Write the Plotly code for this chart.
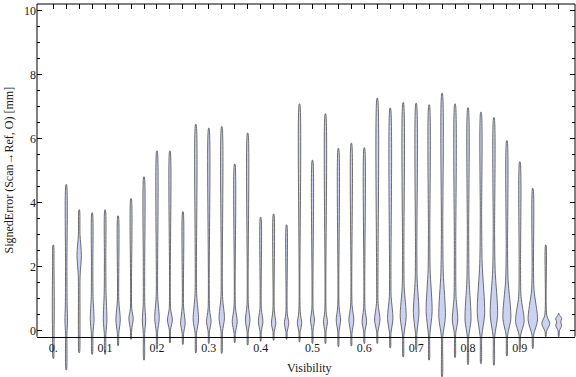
import plotly.graph_objects as go

# ---- data ----
visibility = [0.0, 0.025, 0.05, 0.075, 0.1, 0.125, 0.15, 0.175, 0.2, 0.225,
              0.25, 0.275, 0.3, 0.325, 0.35, 0.375, 0.4, 0.425, 0.45, 0.475,
              0.5, 0.525, 0.55, 0.575, 0.6, 0.625, 0.65, 0.675, 0.7, 0.725,
              0.75, 0.775, 0.8, 0.825, 0.85, 0.875, 0.9, 0.925, 0.95, 0.975]

err_max = [2.67, 4.56, 3.77, 3.68, 3.77, 3.58, 4.12, 4.80, 5.61, 5.61,
           3.71, 6.44, 6.32, 6.37, 5.20, 6.17, 3.54, 3.64, 3.30, 7.08,
           5.32, 6.77, 5.69, 5.85, 5.71, 7.26, 6.95, 7.12, 7.10, 7.05,
           7.41, 7.08, 6.96, 6.82, 6.65, 5.93, 5.27, 4.44, 2.67, 0.54]

err_min = [-0.87, -1.23, -0.69, -0.74, -0.74, -0.47, -0.27, -0.92, -0.58, -0.38,
           -0.43, -0.69, -0.40, -0.71, -0.37, -0.45, -0.33, -0.30, -0.27, -0.35,
           -0.40, -0.40, -0.50, -0.48, -0.40, -0.40, -0.54, -0.82, -0.61, -0.92,
           -1.44, -0.84, -1.06, -1.03, -1.08, -0.79, -0.61, -0.56, -0.19, -0.19]

# density profile knots per violin: (error value, relative half-width)
density_knots = [
    [(0.0, 0.8), (0.8, 1.0), (2.0, 0.7)],
    [(-0.1, 0.7), (0.3, 1.3), (0.8, 0.9), (2.0, 0.7)],
    [(0.0, 0.8), (1.7, 0.9), (2.35, 2.2), (3.0, 0.8)],
    [(-0.1, 0.8), (0.35, 1.9), (1.06, 0.9), (2.0, 0.7)],
    [(-0.1, 0.8), (0.33, 1.8), (1.2, 0.9), (2.2, 0.7)],
    [(-0.09, 0.7), (0.33, 2.2), (0.95, 0.7)],
    [(0.02, 0.6), (0.38, 2.2), (0.69, 0.7)],
    [(-0.09, 0.7), (0.33, 1.7), (0.8, 0.8), (2.0, 0.7)],
    [(-0.04, 0.7), (0.38, 2.3), (1.06, 0.8)],
    [(0.02, 0.6), (0.33, 2.5), (0.69, 0.7)],
    [(-0.09, 0.7), (0.22, 2.3), (0.74, 0.7)],
    [(-0.09, 0.7), (0.33, 2.7), (1.16, 0.8)],
    [(-0.04, 0.6), (0.28, 2.3), (0.69, 0.7)],
    [(-0.04, 0.7), (0.38, 2.7), (1.06, 0.8)],
    [(-0.09, 0.6), (0.28, 2.5), (0.74, 0.7)],
    [(-0.04, 0.6), (0.33, 2.3), (0.80, 0.7)],
    [(-0.04, 0.6), (0.28, 2.3), (0.69, 0.7)],
    [(-0.04, 0.6), (0.22, 2.2), (0.64, 0.7)],
    [(-0.04, 0.6), (0.22, 2.2), (0.54, 0.7)],
    [(-0.04, 0.6), (0.22, 2.2), (0.59, 0.7)],
    [(0.02, 0.6), (0.33, 2.0), (0.64, 0.7)],
    [(-0.04, 0.6), (0.28, 2.0), (0.59, 0.7)],
    [(-0.04, 0.6), (0.33, 2.2), (0.74, 0.7)],
    [(-0.09, 0.6), (0.33, 2.5), (0.80, 0.7)],
    [(-0.04, 0.6), (0.28, 2.3), (0.69, 0.7)],
    [(-0.04, 0.6), (0.33, 2.7), (0.85, 0.8), (1.8, 0.7)],
    [(-0.09, 0.7), (0.38, 2.7), (1.06, 0.9), (1.8, 0.7)],
    [(-0.14, 0.7), (0.43, 3.0), (1.37, 1.0), (2.5, 0.7)],
    [(-0.09, 0.7), (0.54, 2.8), (1.58, 1.0), (2.5, 0.7)],
    [(-0.14, 0.7), (0.59, 3.0), (1.9, 1.0), (3.0, 0.7)],
    [(-0.19, 0.7), (0.43, 3.3), (1.8, 1.2), (3.0, 0.7)],
    [(-0.09, 0.7), (0.33, 2.7), (1.06, 1.0), (2.5, 0.7)],
    [(-0.19, 0.7), (0.33, 3.0), (1.58, 1.1), (3.0, 0.7)],
    [(-0.19, 0.8), (0.54, 3.7), (2.1, 1.2), (3.5, 0.7)],
    [(-0.19, 0.8), (0.49, 3.7), (1.9, 1.2), (3.0, 0.7)],
    [(-0.14, 0.8), (0.38, 4.0), (1.58, 1.2), (2.5, 0.7)],
    [(-0.14, 0.8), (0.28, 4.3), (1.06, 1.2), (2.0, 0.7)],
    [(-0.14, 0.8), (0.33, 4.7), (1.27, 1.2), (2.0, 0.7)],
    [(-0.03, 0.7), (0.22, 4.0), (0.48, 1.0)],
    [(0.0, 0.7), (0.15, 3.0), (0.27, 2.0), (0.38, 3.0), (0.50, 0.5)],
]

x_tick_vals = [0.0, 0.1, 0.2, 0.3, 0.4, 0.5, 0.6, 0.7, 0.8, 0.9]
x_tick_text = ["0.", "0.1", "0.2", "0.3", "0.4", "0.5", "0.6", "0.7", "0.8", "0.9"]
y_tick_vals = [0, 2, 4, 6, 8, 10]
y_tick_text = ["0", "2", "4", "6", "8", "10"]
y_minor_vals = [0.5, 1, 1.5, 2.5, 3, 3.5, 4.5, 5, 5.5, 6.5, 7, 7.5, 8.5, 9, 9.5]

# ---- styling / geometry ----
X_RANGE = [-0.0314, 1.0064]
Y_RANGE = [-1.45, 10.2]
AXIS_Y = -0.19
WIDTH_SCALE = 1 / 518.4      # relative half-width unit -> visibility units
TAIL = 0.25
FILL = "#cbd2f3"
EDGE = "#555555"
FONT = "Liberation Serif, Times New Roman, serif"
TXT = "#1a1a1a"

fig = go.Figure()

for pos, lo, hi, knots in zip(visibility, err_min, err_max, density_knots):
    pts = [(lo, TAIL)] + sorted(knots) + [(hi, TAIL)]
    ys = [p[0] for p in pts]
    ws = [p[1] * WIDTH_SCALE for p in pts]
    xs_r = [pos + w for w in ws]
    xs_l = [pos - w for w in ws]
    fig.add_trace(go.Scatter(
        x=xs_r + xs_l[::-1] + [xs_r[0]],
        y=ys + ys[::-1] + [ys[0]],
        mode="lines", fill="toself", fillcolor=FILL,
        line=dict(color=EDGE, width=0.85, shape="spline", smoothing=0.8),
        hoverinfo="skip", showlegend=False,
    ))

# dummy trace to show mirrored axes (top / right ticks)
fig.add_trace(go.Scatter(x=[None], y=[None], xaxis="x2", yaxis="y2",
                         showlegend=False, hoverinfo="skip"))

axis_pos = (AXIS_Y - Y_RANGE[0]) / (Y_RANGE[1] - Y_RANGE[0])

fig.update_layout(
    width=576, height=377,
    margin=dict(l=37, r=1, t=4, b=0, autoexpand=False),
    paper_bgcolor="white", plot_bgcolor="white",
    font=dict(family=FONT, size=12, color=TXT),
    xaxis=dict(range=X_RANGE, anchor="free", position=axis_pos,
               automargin=False,
               showline=True, linecolor="black", linewidth=1,
               tickvals=x_tick_vals, ticktext=x_tick_text, ticks="",
               showgrid=False, zeroline=False,
               tickfont=dict(family=FONT, size=12, color=TXT)),
    yaxis=dict(range=Y_RANGE, showline=False, showgrid=False, zeroline=False,
               automargin=False,
               tickvals=y_tick_vals, ticktext=y_tick_text,
               ticks="inside", ticklen=5, tickcolor="black", tickwidth=1,
               minor=dict(tickvals=y_minor_vals, ticks="inside", ticklen=3,
                          tickcolor="black", tickwidth=1, showgrid=False),
               tickfont=dict(family=FONT, size=12, color=TXT)),
    xaxis2=dict(range=X_RANGE, overlaying="x", side="top", anchor="y2",
                automargin=False,
                tickvals=visibility, showticklabels=False,
                ticks="inside", ticklen=5, tickcolor="black", tickwidth=1,
                showline=False, showgrid=False, zeroline=False),
    yaxis2=dict(range=Y_RANGE, overlaying="y", side="right", anchor="x2",
                automargin=False,
                tickvals=y_tick_vals, showticklabels=False,
                ticks="inside", ticklen=5, tickcolor="black", tickwidth=1,
                minor=dict(tickvals=y_minor_vals, ticks="inside", ticklen=3,
                           tickcolor="black", tickwidth=1, showgrid=False),
                showline=False, showgrid=False, zeroline=False),
    shapes=[
        dict(type="line", xref="paper", yref="y", x0=0, x1=0,
             y0=AXIS_Y, y1=Y_RANGE[1], line=dict(color="black", width=1)),
        dict(type="line", xref="paper", yref="y", x0=1, x1=1,
             y0=AXIS_Y, y1=Y_RANGE[1], line=dict(color="black", width=1)),
        dict(type="line", xref="paper", yref="paper", x0=0, x1=1,
             y0=1, y1=1, line=dict(color="black", width=1)),
    ],
    annotations=[
        dict(text="Visibility", xref="paper", yref="paper",
             x=0.507, y=0.024, showarrow=False, xanchor="center",
             yanchor="middle", font=dict(family=FONT, size=12, color=TXT)),
        dict(text="SignedError (Scan→Ref, O) [mm]", xref="paper", yref="paper",
             x=-0.053, y=0.555, showarrow=False, textangle=-90,
             xanchor="center", yanchor="middle",
             font=dict(family=FONT, size=12, color=TXT)),
    ],
)

fig.write_html("out.html",
               config={"displayModeBar": False, "staticPlot": True},
               post_script="document.body.style.margin='0px';"
                           "document.body.style.overflow='hidden';")
